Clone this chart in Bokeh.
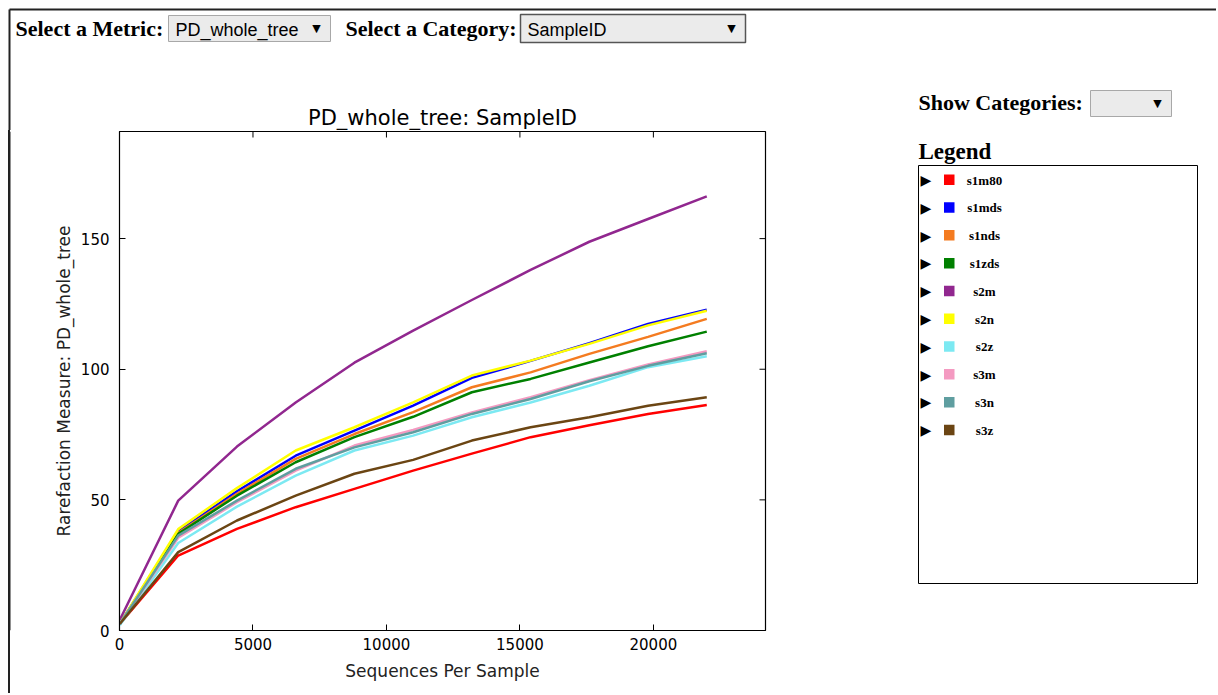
from bokeh.plotting import figure
from bokeh.models import FixedTicker, Range1d
from bokeh.layouts import column, row
from bokeh.core.properties import value
from bokeh.embed import file_html
from bokeh.resources import INLINE

# ---------------- data ----------------
seqs_per_sample = [10, 2200, 4400, 6600, 8800, 11000, 13200, 15400, 17600, 19800, 22000]

sample_ids = ["s1m80", "s1mds", "s1nds", "s1zds", "s2m", "s2n", "s2z", "s3m", "s3n", "s3z"]
sample_colors = ["#FF0000", "#0000FF", "#F47B20", "#008000", "#91278F",
                 "#FFFF00", "#7CE9F2", "#F49AC1", "#5F9EA0", "#6B4513"]

s1m80 = [2.5, 28.7, 38.9, 47.2, 54.2, 61.2, 67.7, 74.0, 78.6, 82.9, 86.3]
s1mds = [2.5, 37.9, 53.3, 66.9, 76.5, 86.1, 96.7, 103.2, 110.0, 117.3, 122.8]
s1nds = [2.5, 37.4, 52.3, 65.7, 75.2, 83.6, 93.1, 98.8, 105.9, 112.4, 119.3]
s1zds = [2.5, 37.0, 51.6, 64.4, 74.0, 81.8, 91.2, 96.3, 102.6, 108.8, 114.4]
s2m = [4.0, 49.7, 70.4, 87.3, 102.5, 114.8, 126.5, 138.0, 148.8, 157.5, 166.2]
s2n = [2.5, 38.8, 54.5, 68.9, 77.8, 87.3, 97.6, 103.3, 109.7, 116.8, 122.4]
s2z = [2.0, 33.5, 47.4, 59.3, 68.9, 74.6, 81.6, 87.3, 93.7, 100.8, 105.0]
s3m = [2.5, 35.5, 49.1, 61.2, 70.8, 76.8, 83.5, 89.3, 95.8, 101.8, 106.9]
s3n = [2.5, 36.3, 49.7, 61.9, 70.1, 75.9, 82.9, 88.6, 95.4, 101.3, 106.1]
s3z = [2.5, 30.0, 42.1, 51.6, 60.0, 65.3, 72.7, 77.8, 81.6, 86.0, 89.3]
series = [s1m80, s1mds, s1nds, s1zds, s2m, s2n, s2z, s3m, s3n, s3z]

x_ticks = [0, 5000, 10000, 15000, 20000]
y_ticks = [0, 50, 100, 150]
X_MAX = 24200
Y_MAX = 191

title_text = "PD_whole_tree: SampleID"
x_label = "Sequences Per Sample"
y_label = "Rarefaction Measure: PD_whole_tree"
metric_label = "Select a Metric:"
metric_choice = "PD_whole_tree"
category_label = "Select a Category:"
category_choice = "SampleID"
show_label = "Show Categories:"
legend_title = "Legend"

# ---------------- layout constants (page pixels) ----------------
W, H = 1216, 693
HEAD_H = 130
STRIP_W = 11
CHART_R = 900                          # right edge of the chart figure on the page
FL, FR, FT, FB = 119, 765, 131, 630    # plot frame edges on the page
BODY_H = H - HEAD_H
TOP_B = FT - HEAD_H
BOT_B = H - FB
SERIF = "Liberation Serif"
BORDER = "#222222"


def blank_fig(w, h, x0, x1, y_top, y_bot, top=0, bottom=0):
    f = figure(width=w, height=h, x_range=Range1d(x0, x1), y_range=Range1d(y_bot, y_top),
               output_backend="svg", toolbar_location=None,
               x_axis_location=None, y_axis_location=None,
               min_border_left=0, min_border_right=0,
               min_border_top=top, min_border_bottom=bottom)
    f.grid.visible = False
    f.outline_line_color = None
    f.background_fill_color = "white"
    f.border_fill_color = "white"
    return f


def put_text(f, x, y, s, size, font=SERIF, style="bold", align="left", color="black",
             baseline="middle"):
    f.text(x=x if isinstance(x, list) else [x], y=y if isinstance(y, list) else [y],
           text=s if isinstance(s, list) else [s],
           text_font=value(font), text_font_size=size, text_font_style=style,
           text_align=align, text_baseline=baseline, text_color=color)


def dropdown(f, L, R, T, B, label, dark=False):
    f.quad(left=[L], right=[R], top=[T], bottom=[B], fill_color="#EBEBEB",
           line_color="#555555" if dark else "#A8A8A8", line_width=1.5 if dark else 1)
    if label:
        put_text(f, L + 7, (T + B) / 2 + 1, label, "18px", font="Liberation Sans", style="normal")
    put_text(f, R - 14, (T + B) / 2, "\u25BC", "11px", font="DejaVu Sans", style="normal", align="center")


# ---------------- header (controls + chart title) ----------------
head = blank_fig(W, HEAD_H, 0, W, 0, HEAD_H)
head.segment(x0=[9, 9], y0=[9, 9], x1=[W, 9], y1=[9, HEAD_H], line_color=BORDER, line_width=2)
put_text(head, 15, 28, metric_label, "22px")
dropdown(head, 168, 330, 15, 41, metric_choice)
put_text(head, 345, 28, category_label, "22px")
dropdown(head, 520, 745, 14, 42, category_choice, dark=True)
put_text(head, 918, 102, show_label, "22px")
dropdown(head, 1090, 1171, 90, 116, "")
put_text(head, (FL + FR) / 2, 117, title_text, "21px", font="DejaVu Sans", style="normal",
         align="center")

# ---------------- left border strip ----------------
strip = blank_fig(STRIP_W, BODY_H, 0, STRIP_W, FT, FB, top=TOP_B, bottom=BOT_B)
strip.border_fill_alpha = 0
strip.background_fill_alpha = 0
strip.styles = {"background": "linear-gradient(to right, #ffffff 8px, #222222 8px, "
                              "#222222 10px, #ffffff 10px)"}
strip.segment(x0=[9], y0=[FT], x1=[9], y1=[FB], line_color=BORDER, line_width=2)

# ---------------- chart ----------------
CW = CHART_R - STRIP_W
p = figure(width=CW, height=BODY_H, x_range=Range1d(0, X_MAX), y_range=Range1d(0, Y_MAX),
           output_backend="svg", toolbar_location=None,
           min_border_left=FL - STRIP_W, min_border_right=CHART_R - FR,
           min_border_top=TOP_B, min_border_bottom=BOT_B)
p.grid.visible = False
p.outline_line_color = "black"
p.outline_line_width = 1.2
p.background_fill_color = "white"
p.border_fill_color = "white"

for ax in (p.xaxis[0], p.yaxis[0]):
    ax.major_tick_in = 6
    ax.major_tick_out = 0
    ax.minor_tick_in = 0
    ax.minor_tick_out = 0
    ax.axis_line_color = "black"
    ax.major_tick_line_color = "black"
    ax.major_label_text_font = "DejaVu Sans"
    ax.major_label_text_font_size = "15px"
    ax.major_label_text_color = "black"
    ax.axis_label_text_font = "DejaVu Sans"
    ax.axis_label_text_font_size = "17px"
    ax.axis_label_text_font_style = "normal"
    ax.axis_label_text_color = "#222222"

p.xaxis.ticker = FixedTicker(ticks=x_ticks)
p.yaxis.ticker = FixedTicker(ticks=y_ticks)
p.xaxis.axis_label = x_label
p.yaxis.axis_label = y_label
p.xaxis.major_label_standoff = 7
p.yaxis.major_label_standoff = 10
p.xaxis.axis_label_standoff = 8
p.yaxis.axis_label_standoff = 4

# mirrored inward ticks on the top and right edges (matplotlib classic style)
tick_dx = 6 * X_MAX / (FR - FL)
tick_dy = 6 * Y_MAX / (FB - FT)
p.segment(x0=x_ticks, y0=[Y_MAX] * len(x_ticks), x1=x_ticks, y1=[Y_MAX - tick_dy] * len(x_ticks),
          line_color="black", line_width=1)
p.segment(x0=[X_MAX] * len(y_ticks), y0=y_ticks, x1=[X_MAX - tick_dx] * len(y_ticks), y1=y_ticks,
          line_color="black", line_width=1)

for name, color, vals in zip(sample_ids, sample_colors, series):
    p.line(seqs_per_sample, vals, line_color=color, line_width=2.5, name=name)

# ---------------- side panel (legend) ----------------
side = blank_fig(W - CHART_R, BODY_H, CHART_R, W, FT, FB, top=TOP_B, bottom=BOT_B)
put_text(side, 918, 151, legend_title, "23px")
side.quad(left=[918], right=[1197], top=[165], bottom=[583], fill_color="white",
          line_color="black", line_width=1)

row0, row_step = 179.5, 27.8
n = len(sample_ids)
rows_y = [row0 + i * row_step for i in range(n)]
put_text(side, [925.5] * n, rows_y, ["\u25B6"] * n, "14px", font="DejaVu Sans", style="normal", align="center")
side.quad(left=[943.5] * n, right=[954] * n, top=[y - 5.5 for y in rows_y],
          bottom=[y + 5 for y in rows_y], fill_color=sample_colors, line_color=None)
put_text(side, [984] * n, rows_y, sample_ids, "13px", align="center")

layout = column(head, row(strip, p, side))
open("out.html", "w").write(file_html(layout, INLINE))
